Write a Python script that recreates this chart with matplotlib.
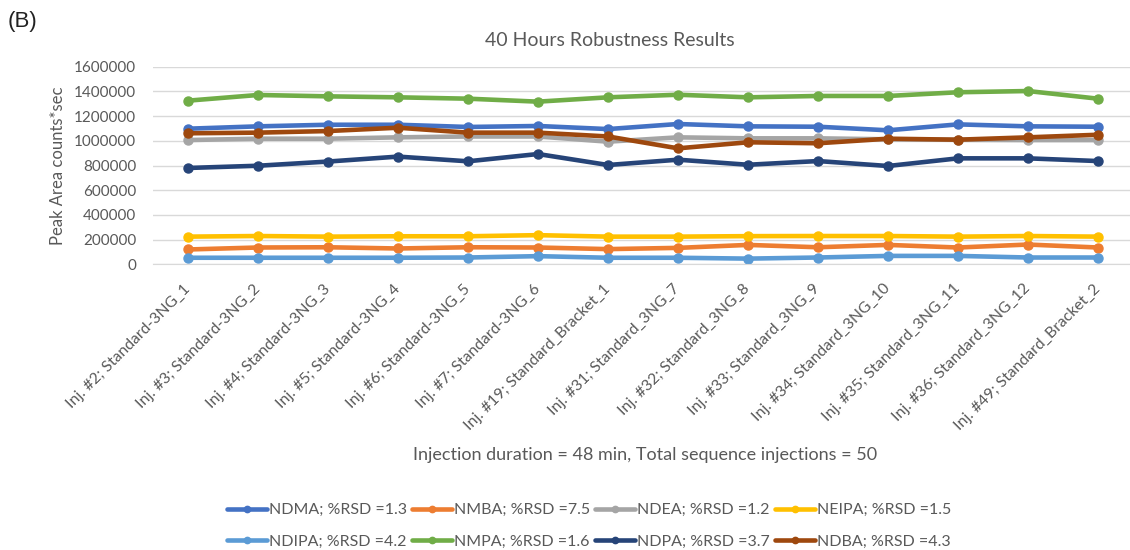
import matplotlib
matplotlib.use("Agg")
import matplotlib.pyplot as plt

# injections (category axis)
injections = [
    "Inj. #2; Standard-3NG_1",
    "Inj. #3; Standard-3NG_2",
    "Inj. #4; Standard-3NG_3",
    "Inj. #5; Standard-3NG_4",
    "Inj. #6; Standard-3NG_5",
    "Inj. #7; Standard-3NG_6",
    "Inj. #19; Standard_Bracket_1",
    "Inj. #31; Standard_3NG_7",
    "Inj. #32; Standard_3NG_8",
    "Inj. #33; Standard_3NG_9",
    "Inj. #34; Standard_3NG_10",
    "Inj. #35; Standard_3NG_11",
    "Inj. #36; Standard_3NG_12",
    "Inj. #49; Standard_Bracket_2",
]

# peak areas
ndma = [1098000, 1117000, 1130000, 1130000, 1112000, 1120000, 1095000,
        1136000, 1117000, 1114000, 1085000, 1133000, 1117000, 1114000]
nmba = [120000, 136000, 138000, 128000, 138000, 136000, 123000,
        133000, 157000, 138000, 157000, 136000, 160000, 136000]
ndea = [1006000, 1017000, 1017000, 1028000, 1035000, 1035000, 993000,
        1028000, 1020000, 1020000, 1012000, 1008000, 1006000, 1006000]
neipa = [224000, 229000, 224000, 227000, 227000, 236000, 224000,
         224000, 228000, 229000, 229000, 224000, 229000, 224000]
ndipa = [53000, 53000, 53000, 53000, 55000, 66000, 53000,
         53000, 46000, 55000, 68000, 68000, 55000, 55000]
nmpa = [1325000, 1371000, 1360000, 1352000, 1341000, 1317000, 1352000,
        1373000, 1352000, 1363000, 1363000, 1393000, 1403000, 1341000]
ndpa = [780000, 798000, 832000, 872000, 834000, 893000, 804000,
        847000, 806000, 836000, 796000, 858000, 858000, 836000]
ndba = [1061000, 1066000, 1079000, 1106000, 1066000, 1066000, 1035000,
        939000, 988000, 980000, 1017000, 1009000, 1028000, 1049000]

series = [
    ("NDMA; %RSD =1.3", ndma, "#4472C4"),
    ("NMBA; %RSD =7.5", nmba, "#ED7D31"),
    ("NDEA; %RSD =1.2", ndea, "#A5A5A5"),
    ("NEIPA; %RSD =1.5", neipa, "#FFC000"),
    ("NDIPA; %RSD =4.2", ndipa, "#5B9BD5"),
    ("NMPA; %RSD =1.6", nmpa, "#70AD47"),
    ("NDPA; %RSD =3.7", ndpa, "#264478"),
    ("NDBA; %RSD =4.3", ndba, "#9E480E"),
]

plt.rcParams["font.family"] = ["Lato", "DejaVu Sans"]
txt = "#595959"

fig = plt.figure(figsize=(11.3, 5.5), dpi=100)
ax = fig.add_axes([153 / 1130, 1 - 264.3 / 550, 980 / 1130, 197.6 / 550])

x = list(range(len(injections)))
lines = []
for name, vals, color in series:
    ln, = ax.plot(x, vals, color=color, linewidth=3.3, marker="o",
                  markersize=6.5, label=name, solid_capstyle="round")
    lines.append(ln)

ax.set_xlim(-0.5, len(injections) - 0.5)
ax.set_ylim(0, 1600000)
ax.set_yticks(range(0, 1600001, 200000))
ax.set_yticklabels([str(v) for v in range(0, 1600001, 200000)])
ax.grid(axis="y", color="#D9D9D9", linewidth=1)
ax.set_axisbelow(True)
for s in ["top", "right", "left"]:
    ax.spines[s].set_visible(False)
ax.spines["bottom"].set_color("#D9D9D9")
ax.tick_params(length=0, colors=txt, labelsize=11)
ax.tick_params(axis="y", pad=12)
ax.set_xticks(x)
ax.set_xticklabels(injections, rotation=45, ha="right", va="center",
                   rotation_mode="anchor", fontsize=11.3)
ax.tick_params(axis="x", pad=16)
ax.set_ylabel("Peak Area counts*sec", color=txt, fontsize=12, labelpad=6)

fig.text(0.007, 1 - 22 / 550, "(B)", fontsize=16, family="Liberation Sans",
         va="center", ha="left", color="#222222")
fig.text(610 / 1130, 1 - 40 / 550, "40 Hours Robustness Results",
         fontsize=14, color=txt, ha="center", va="center")
fig.text(645 / 1130, 1 - 455 / 550,
         "Injection duration = 48 min, Total sequence injections = 50",
         fontsize=13, color=txt, ha="center", va="center")

# excel fills the legend row by row
order = [0, 4, 1, 5, 2, 6, 3, 7]
fig.legend([lines[i] for i in order], [series[i][0] for i in order],
           loc="center", bbox_to_anchor=(589 / 1130, 1 - 526 / 550), ncol=4,
           frameon=False, fontsize=11.5, labelcolor=txt, handlelength=2.5,
           handletextpad=0.15, columnspacing=0.3, labelspacing=1.1,
           markerscale=0.7)

fig.savefig("out.png", dpi=100)
